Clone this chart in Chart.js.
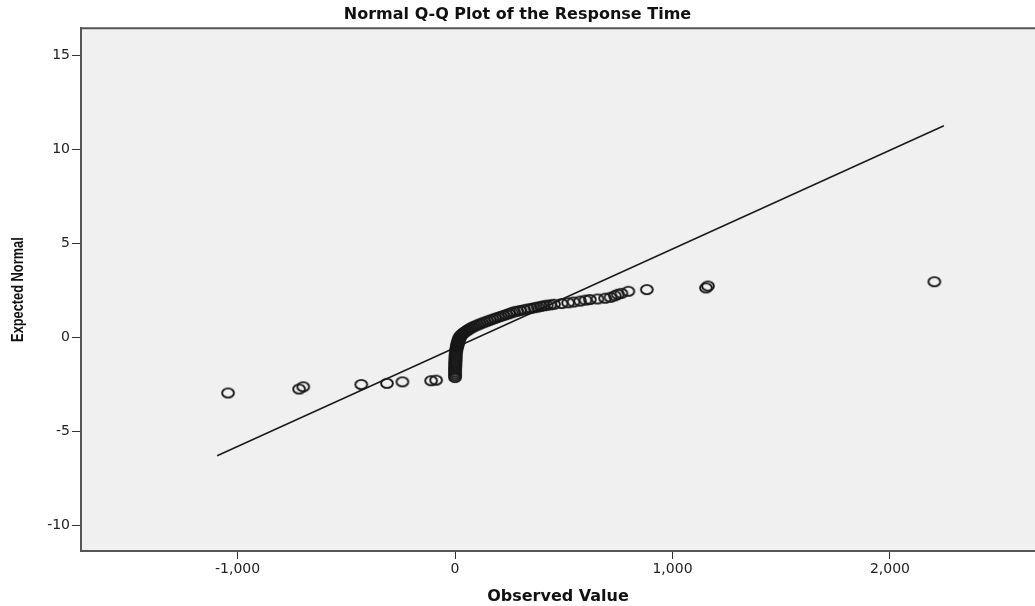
<!DOCTYPE html>
<html>
<head>
<meta charset="utf-8">
<script src="https://cdn.jsdelivr.net/npm/chart.js@4.4.1/dist/chart.umd.min.js"></script>
<style>
  body { margin: 0; background: #fff; }
  #qqChart { display: block; }
</style>
</head>
<body>
<canvas id="qqChart" width="1035" height="606"></canvas>
<script>
const observedValues = [-1044, -717, -698, -431, -313, -242, -110, -87,
  0, 0, 0, 0, 0, 0, 1, 1, 1, 2, 2, 3, 3, 4, 5, 6,
  8, 9, 10, 11, 12, 13, 15, 16, 17, 18, 20, 22, 25, 28, 32, 37, 42, 48, 55, 61, 68, 76,
  84, 94, 104, 114, 125, 136, 148, 160, 172, 184, 196, 209, 222, 235, 248, 260, 272, 286,
  300, 318, 335, 350, 365, 380, 395, 408, 422, 438, 455,
  490, 520, 545, 575, 600, 620, 655, 690, 715, 735, 748, 765, 797, 882,
  1154, 1163, 2204];
const expectedNormal = [-2.97, -2.76, -2.64, -2.52, -2.46, -2.38, -2.32, -2.29,
  -2.15, -2.05, -1.95, -1.85, -1.75, -1.65, -1.55, -1.45, -1.35, -1.25, -1.15, -1.05, -0.95, -0.85, -0.75, -0.65,
  -0.55, -0.50, -0.45, -0.40, -0.35, -0.30, -0.25, -0.20, -0.15, -0.10, -0.05, 0.00, 0.05, 0.10, 0.15, 0.20, 0.25, 0.30, 0.35, 0.40, 0.45, 0.50,
  0.55, 0.60, 0.65, 0.70, 0.75, 0.80, 0.85, 0.90, 0.95, 1.00, 1.05, 1.10, 1.15, 1.20, 1.25, 1.30, 1.35, 1.38,
  1.42, 1.46, 1.50, 1.53, 1.57, 1.60, 1.64, 1.67, 1.70, 1.72, 1.75,
  1.79, 1.83, 1.87, 1.92, 1.97, 2.00, 2.03, 2.07, 2.12, 2.20, 2.28, 2.33, 2.44, 2.53,
  2.62, 2.72, 2.95];

// reference line end points
const lineObserved = [-1094, 2248];
const lineExpected = [-6.31, 11.25];

const xTickValues = [-1000, 0, 1000, 2000];
const yTickValues = [-10, -5, 0, 5, 10, 15];

const points = observedValues.map((v, i) => ({ x: v, y: expectedNormal[i] }));
const refLine = lineObserved.map((v, i) => ({ x: v, y: lineExpected[i] }));

// slightly wide open circle like the SPSS marker
const marker = document.createElement('canvas');
marker.width = 16;
marker.height = 13;
const mctx = marker.getContext('2d');
mctx.strokeStyle = '#181818';
mctx.lineWidth = 1.9;
mctx.beginPath();
mctx.ellipse(8, 6.5, 5.9, 4.6, 0, 0, Math.PI * 2);
mctx.stroke();

const plotFrame = {
  id: 'plotFrame',
  beforeDraw(chart) {
    const { ctx, chartArea: a } = chart;
    ctx.save();
    ctx.fillStyle = '#f0f0f0';
    ctx.fillRect(a.left, a.top, a.right - a.left, a.bottom - a.top);
    ctx.strokeStyle = '#555';
    ctx.lineWidth = 2;
    ctx.beginPath();
    ctx.moveTo(a.left, a.top);
    ctx.lineTo(a.right, a.top);
    ctx.stroke();
    ctx.restore();
  },
  afterDraw(chart) {
    // narrow y axis title (no condensed face installed, so squeeze it)
    const { ctx, chartArea: a } = chart;
    ctx.save();
    ctx.translate(18.5, (a.top + a.bottom) / 2);
    ctx.rotate(-Math.PI / 2);
    ctx.scale(0.8, 1);
    ctx.font = "bold 16px 'Liberation Sans', Arial, sans-serif";
    ctx.fillStyle = '#111';
    ctx.textAlign = 'center';
    ctx.textBaseline = 'middle';
    ctx.fillText('Expected Normal', 0, 0);
    ctx.restore();
  }
};

const tickFont = { family: 'DejaVu Sans', size: 14 };
const titleFont = { family: 'DejaVu Sans', size: 16, weight: 'bold' };

new Chart(document.getElementById('qqChart').getContext('2d'), {
  type: 'scatter',
  data: {
    datasets: [{
      label: 'Observed',
      data: points,
      pointStyle: marker,
      pointRadius: 6,
      borderColor: '#181818',
      backgroundColor: 'rgba(0,0,0,0)'
    }, {
      type: 'line',
      label: 'Reference',
      data: refLine,
      borderColor: '#1a1a1a',
      borderWidth: 1.5,
      pointRadius: 0,
      fill: false
    }]
  },
  options: {
    responsive: false,
    animation: false,
    layout: { padding: 0, autoPadding: false },
    plugins: {
      legend: { display: false },
      tooltip: { enabled: false },
      title: {
        display: true,
        text: 'Normal Q-Q Plot of the Response Time',
        color: '#111',
        font: titleFont,
        padding: { top: 5, bottom: 4 }
      }
    },
    scales: {
      x: {
        type: 'linear',
        min: -1720,
        max: 2667,
        afterBuildTicks: s => { s.ticks = xTickValues.map(v => ({ value: v })); },
        afterFit: s => { s.height = 55; s.paddingLeft = 0; s.paddingRight = 0; },
        ticks: {
          color: '#222',
          font: tickFont,
          padding: 2,
          maxRotation: 0,
          callback: v => v.toLocaleString('en-US')
        },
        grid: { drawOnChartArea: false, drawTicks: true, tickLength: 8, color: '#333', lineWidth: 1 },
        border: { display: true, color: '#555', width: 2 },
        title: {
          display: true,
          text: 'Observed Value',
          color: '#111',
          font: titleFont,
          padding: { top: 0, bottom: 0 }
        }
      },
      y: {
        type: 'linear',
        min: -11.38,
        max: 16.44,
        afterBuildTicks: s => { s.ticks = yTickValues.map(v => ({ value: v })); },
        afterFit: s => { s.width = 81; s.paddingTop = 0; s.paddingBottom = 0; },
        ticks: { color: '#222', font: tickFont, padding: 2 },
        grid: { drawOnChartArea: false, drawTicks: true, tickLength: 9, color: '#333', lineWidth: 1 },
        border: { display: true, color: '#555', width: 2 }
      }
    }
  },
  plugins: [plotFrame]
});
</script>
</body>
</html>
